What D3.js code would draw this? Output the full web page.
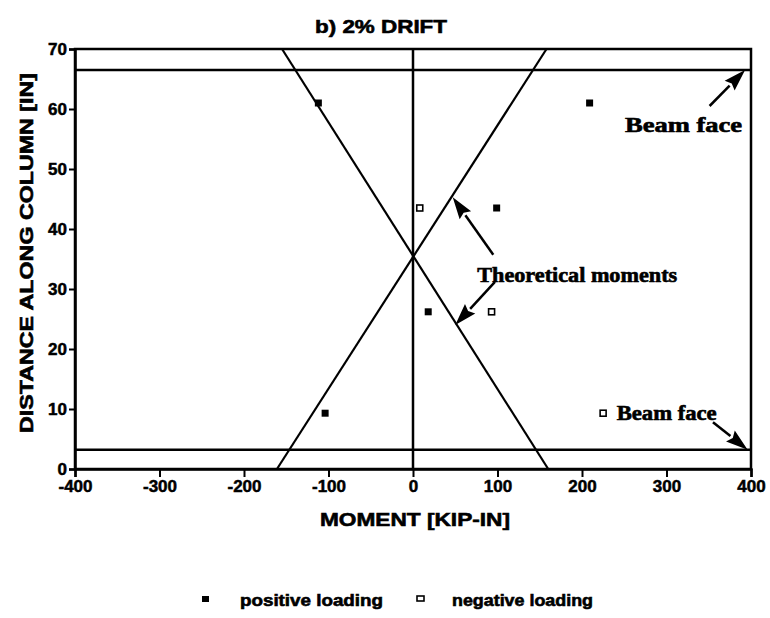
<!DOCTYPE html>
<html>
<head>
<meta charset="utf-8">
<script src="https://cdn.jsdelivr.net/npm/d3@7"></script>
<style>
  body { margin: 0; background: #fff; }
  svg { display: block; }
  .tick text { font-family: "Liberation Sans", Arial, sans-serif; font-weight: bold; font-size: 17px; fill: #000; stroke: #000; stroke-width: 0.5px; }
  .heavy { stroke: #000; stroke-width: 0.6px; }
</style>
</head>
<body>
<div id="chart"></div>
<script>
// data
var xTicks = [-400, -300, -200, -100, 0, 100, 200, 300, 400];
var yTicks = [0, 10, 20, 30, 40, 50, 60, 70];

var posMoment = [-112, 209, 99, 18, -104];
var posDist = [61, 61, 43.5, 26.2, 9.3];
var negMoment = [8, 93, 225];
var negDist = [43.5, 26.2, 9.3];

// theoretical moment lines (end points)
var theoryUp = [[-161, 0], [158, 70]];
var theoryDown = [[-155, 70], [160, 0]];

var beamFaces = [3.2, 66.5];

var svgWidth = 770, svgHeight = 618;
var margin = { top: 49, right: 19, bottom: 149, left: 75 };
var width = svgWidth - margin.left - margin.right;
var height = svgHeight - margin.top - margin.bottom;

var svg = d3.select("#chart").append("svg")
  .attr("width", svgWidth)
  .attr("height", svgHeight);

var g = svg.append("g")
  .attr("transform", `translate(${margin.left}, ${margin.top})`);

var x = d3.scaleLinear().domain([-400, 400]).range([0, width]);
var y = d3.scaleLinear().domain([0, 70]).range([height, 0]);

// frame
g.append("rect")
  .attr("width", width).attr("height", height)
  .attr("fill", "none").attr("stroke", "#000").attr("stroke-width", 2.5);

// axes
var xAxis = g.append("g")
  .attr("transform", `translate(0, ${height})`)
  .call(d3.axisBottom(x).tickValues(xTicks).tickSize(8).tickPadding(3)
    .tickFormat(d => String(d)));
var yAxis = g.append("g")
  .call(d3.axisLeft(y).tickValues(yTicks).tickSize(6).tickPadding(2));
[xAxis, yAxis].forEach(function(a) {
  a.select(".domain").attr("stroke-width", 2.5);
  a.selectAll(".tick line").attr("stroke-width", 2);
});

// zero moment line
g.append("line")
  .attr("x1", x(0)).attr("x2", x(0))
  .attr("y1", 0).attr("y2", height)
  .attr("stroke", "#000").attr("stroke-width", 2.5);

// beam faces
g.selectAll(".beam").data(beamFaces).enter().append("line")
  .attr("x1", 0).attr("x2", width)
  .attr("y1", d => y(d)).attr("y2", d => y(d))
  .attr("stroke", "#000").attr("stroke-width", 2.5);

// theoretical lines
var line = d3.line().x(d => x(d[0])).y(d => y(d[1]));
[theoryUp, theoryDown].forEach(function(l) {
  g.append("path").attr("d", line(l))
    .attr("fill", "none").attr("stroke", "#000").attr("stroke-width", 2.2);
});

// points
g.selectAll(".pos").data(posMoment).enter().append("rect")
  .attr("x", (d, i) => x(d) - 3.5)
  .attr("y", (d, i) => y(posDist[i]) - 3.5)
  .attr("width", 7).attr("height", 7)
  .attr("fill", "#000");

g.selectAll(".neg").data(negMoment).enter().append("rect")
  .attr("x", (d, i) => x(d) - 3)
  .attr("y", (d, i) => y(negDist[i]) - 3)
  .attr("width", 6).attr("height", 6)
  .attr("fill", "#fff").attr("stroke", "#000").attr("stroke-width", 1.6);

// annotations
var arrows = [
  [[351, 60.5], [393, 66.5]],
  [[355, 7.8], [396, 3.2]],
  [[95, 35.7], [47, 45.3]],
  [[97, 31.2], [50, 24]]
];
arrows.forEach(function(a) {
  var x1 = x(a[0][0]), y1 = y(a[0][1]), x2 = x(a[1][0]), y2 = y(a[1][1]);
  var dx = x2 - x1, dy = y2 - y1, len = Math.sqrt(dx * dx + dy * dy);
  var ux = dx / len, uy = dy / len;
  var hl = 22, hw = 7;
  var bx = x2 - ux * hl, by = y2 - uy * hl;
  g.append("line")
    .attr("x1", x1).attr("y1", y1).attr("x2", bx).attr("y2", by)
    .attr("stroke", "#000").attr("stroke-width", 2.5);
  g.append("path")
    .attr("d", `M${x2},${y2} L${bx - uy * hw},${by + ux * hw} L${bx + ux * 3},${by + uy * 3} L${bx + uy * hw},${by - ux * hw} Z`)
    .attr("fill", "#000");
});

var notes = [
  { text: "Beam face", m: 251, d: 56.2, len: 117 },
  { text: "Beam face", m: 241, d: 8.2, len: 100 },
  { text: "Theoretical moments", m: 76, d: 31.2, len: 200 }
];
g.selectAll(".note").data(notes).enter().append("text")
  .attr("class", "heavy")
  .attr("x", d => x(d.m)).attr("y", d => y(d.d))
  .attr("textLength", d => d.len).attr("lengthAdjust", "spacingAndGlyphs")
  .style("font-family", "'Liberation Serif', 'Times New Roman', serif")
  .style("font-weight", "bold").style("font-size", "20px")
  .text(d => d.text);

// titles
svg.append("text")
  .attr("class", "heavy")
  .attr("x", 381).attr("y", 33)
  .attr("text-anchor", "middle")
  .attr("textLength", 132).attr("lengthAdjust", "spacingAndGlyphs")
  .style("font-family", "'Liberation Sans', Arial, sans-serif")
  .style("font-weight", "bold").style("font-size", "19px")
  .text("b) 2% DRIFT");

svg.append("text")
  .attr("class", "heavy")
  .attr("x", 415).attr("y", 526)
  .attr("text-anchor", "middle")
  .attr("textLength", 190).attr("lengthAdjust", "spacingAndGlyphs")
  .style("font-family", "'Liberation Sans', Arial, sans-serif")
  .style("font-weight", "bold").style("font-size", "19px")
  .text("MOMENT [KIP-IN]");

svg.append("text")
  .attr("class", "heavy")
  .attr("transform", "translate(33, 253) rotate(-90)")
  .attr("text-anchor", "middle")
  .attr("textLength", 360).attr("lengthAdjust", "spacingAndGlyphs")
  .style("font-family", "'Liberation Sans', Arial, sans-serif")
  .style("font-weight", "bold").style("font-size", "18px")
  .text("DISTANCE ALONG COLUMN [IN]");

// legend
var legend = svg.append("g").attr("transform", "translate(0, 600)");
legend.append("rect").attr("x", 202).attr("y", -4).attr("width", 7).attr("height", 6).attr("fill", "#000");
legend.append("text").attr("class", "heavy").attr("x", 240).attr("y", 6)
  .attr("textLength", 143).attr("lengthAdjust", "spacingAndGlyphs")
  .style("font-family", "'Liberation Sans', Arial, sans-serif")
  .style("font-weight", "bold").style("font-size", "16px")
  .text("positive loading");
legend.append("rect").attr("x", 417).attr("y", -4).attr("width", 7).attr("height", 5)
  .attr("fill", "#fff").attr("stroke", "#000").attr("stroke-width", 1.6);
legend.append("text").attr("class", "heavy").attr("x", 452).attr("y", 6)
  .attr("textLength", 141).attr("lengthAdjust", "spacingAndGlyphs")
  .style("font-family", "'Liberation Sans', Arial, sans-serif")
  .style("font-weight", "bold").style("font-size", "16px")
  .text("negative loading");
</script>
</body>
</html>
